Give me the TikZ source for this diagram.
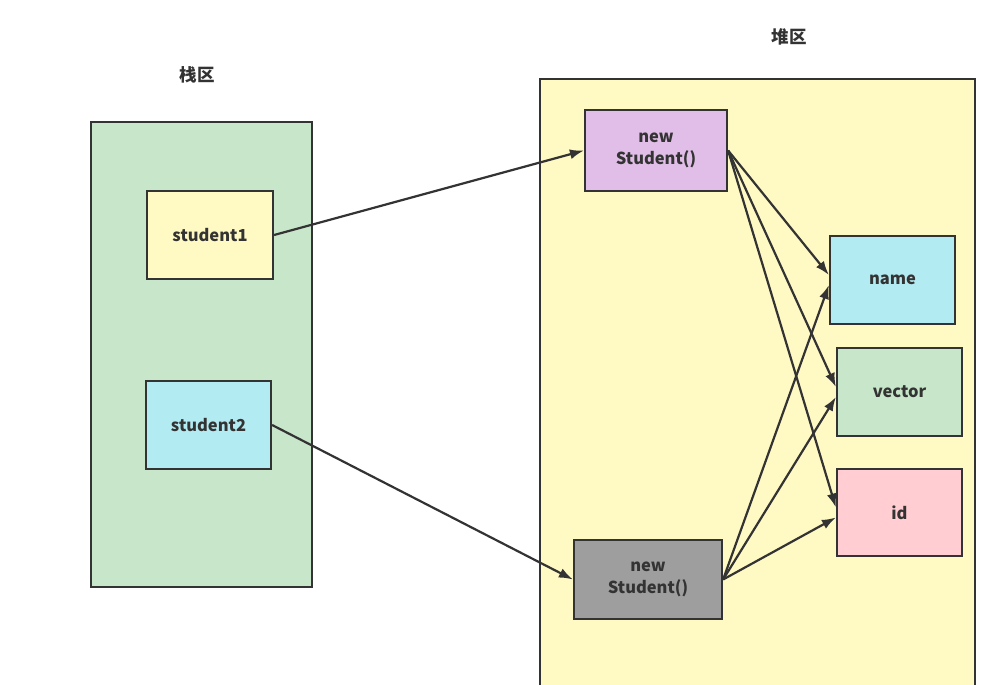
\documentclass[tikz,border=0pt]{standalone}
\usepackage{fontspec}
\setmainfont{Noto Sans CJK SC}
\usetikzlibrary{arrows.meta}

\definecolor{linegray}{HTML}{333333}
\definecolor{stackgreen}{HTML}{C8E6C9}
\definecolor{heapyellow}{HTML}{FFF9C4}
\definecolor{cellcyan}{HTML}{B2EBF2}
\definecolor{cellpurple}{HTML}{E1BEE7}
\definecolor{cellgray}{HTML}{9E9E9E}
\definecolor{cellpink}{HTML}{FFCDD2}

\tikzstyle{area}=[draw=linegray, line width=2.2pt, inner sep=0pt]
\tikzstyle{cell}=[draw=linegray, line width=2.2pt, inner sep=0pt, align=center, text=linegray, font=\fontsize{16.5}{21.5}\selectfont\bfseries]
\tikzstyle{title}=[text=linegray, font=\fontsize{17.5}{20}\selectfont\bfseries]
\tikzstyle{edge}=[draw=linegray, line width=2.2pt, -{Latex[length=14pt,width=10pt]}]

\begin{document}
\begin{tikzpicture}[x=1pt, y=-1pt]
	\useasboundingbox (0,0) rectangle (988,685);
	% the two memory areas
	\node[area, fill=stackgreen, minimum width=221pt, minimum height=465pt] (stack) at (201.5,354.5) {};
	\node[area, fill=heapyellow, minimum width=435pt, minimum height=611pt] (heap) at (757.5,384.5) {};
	\node[title] (stacktitle) at (197,75) {栈区};
	\node[title] (heaptitle) at (789,37) {堆区};
	% cells
	\node[cell, fill=heapyellow, minimum width=126pt, minimum height=88pt] (s1) at (210,235) {student1};
	\node[cell, fill=cellcyan, minimum width=125pt, minimum height=88pt] (s2) at (208.5,425) {student2};
	\node[cell, fill=cellpurple, minimum width=142pt, minimum height=81pt] (new1) at (656,150.5) {new\\Student()};
	\node[cell, fill=cellgray, minimum width=148pt, minimum height=79pt] (new2) at (648,579.5) {new\\Student()};
	\node[cell, fill=cellcyan, minimum width=125pt, minimum height=88pt] (name) at (892.5,280) {name};
	\node[cell, fill=stackgreen, minimum width=125pt, minimum height=88pt] (vector) at (899.5,392) {vector};
	\node[cell, fill=cellpink, minimum width=125pt, minimum height=87pt] (id) at (899.5,512.5) {id};
	% references
	\path[edge] (s1.east) -- (new1.west);
	\path[edge] (s2.east) -- (new2.west);
	\foreach \dest in {name, vector, id} {
		\path[edge] (new1.east) -- ([yshift=5pt]\dest.west);
		\path[edge] (new2.east) -- ([yshift=-5pt]\dest.west);
	}
\end{tikzpicture}
\end{document}
